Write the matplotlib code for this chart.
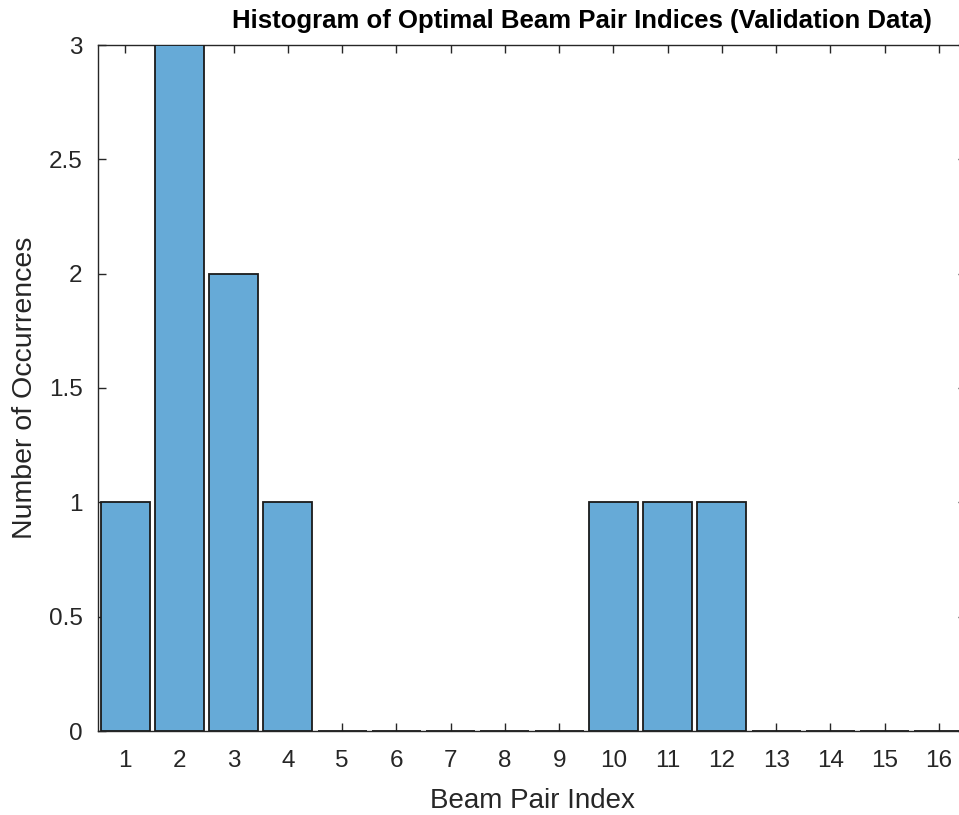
import numpy as np
import matplotlib.pyplot as plt

# optimal beam pair index counts (validation data)
beam_idx = np.arange(1, 17)
counts = [1, 3, 2, 1, 0, 0, 0, 0, 0, 1, 1, 1, 0, 0, 0, 0]
y_ticks = [0, 0.5, 1, 1.5, 2, 2.5, 3]
y_labels = ['0', '0.5', '1', '1.5', '2', '2.5', '3']

plt.rcParams['font.family'] = ['Liberation Sans', 'DejaVu Sans']
axcol = '#262626'

fig = plt.figure(figsize=(9.59, 8.15), dpi=100)
# axes run past the right edge, like the cropped reference
ax = fig.add_axes([98 / 959, 1 - 731 / 815, 868 / 959, 686 / 815])

ax.bar(beam_idx, counts, width=0.9, color='#66AAD7',
       edgecolor='#1a1a1a', linewidth=1.3, zorder=3)

ax.set_xlim(0.5, 16.5)
ax.set_ylim(0, 3)
ax.set_xticks(beam_idx)
ax.set_yticks(y_ticks)
ax.set_yticklabels(y_labels)

ax.tick_params(direction='in', length=6, width=1, colors=axcol,
               labelsize=17.5, top=True, right=True)
ax.tick_params(axis='x', pad=14)
ax.tick_params(axis='y', pad=11)
for s in ax.spines.values():
    s.set_color(axcol)
    s.set_linewidth(1)

ax.set_xlabel('Beam Pair Index', fontsize=20, color=axcol, labelpad=11)
ax.set_ylabel('Number of Occurrences', fontsize=20.5, color=axcol, labelpad=8)
ax.set_title('Histogram of Optimal Beam Pair Indices (Validation Data)',
             fontsize=18.5, fontweight='bold', color='black', pad=12,
             x=(582 - 98) / 868)

fig.savefig('out.png', dpi=100)
